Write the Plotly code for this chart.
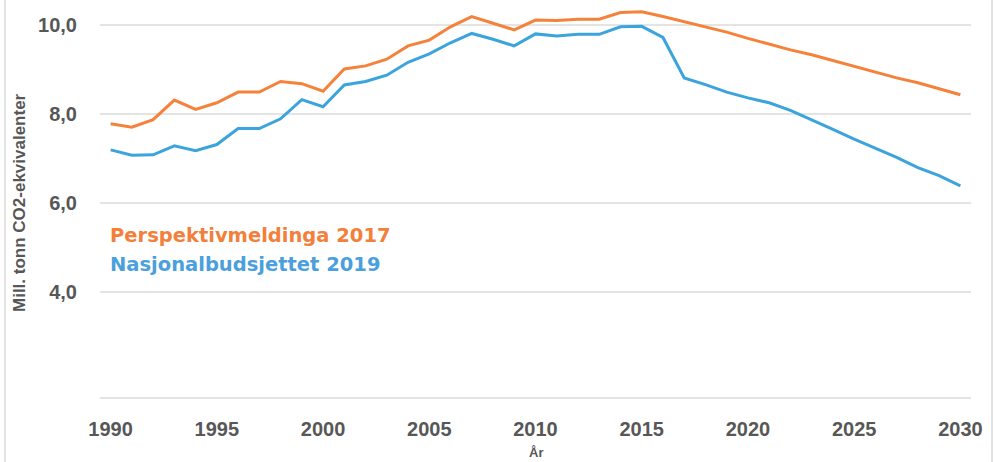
import plotly.graph_objects as go

years = list(range(1990, 2031))

perspektiv_2017 = [7.78, 7.70, 7.87, 8.31, 8.10, 8.25, 8.49, 8.49, 8.73, 8.68,
                   8.51, 9.01, 9.08, 9.23, 9.53, 9.66, 9.96, 10.19, 10.04, 9.89,
                   10.11, 10.10, 10.13, 10.13, 10.28, 10.30, 10.19, 10.07, 9.96, 9.84,
                   9.70, 9.57, 9.44, 9.33, 9.20, 9.07, 8.93, 8.81, 8.70, 8.57, 8.43]

nasjonal_2019 = [7.19, 7.07, 7.08, 7.28, 7.17, 7.31, 7.67, 7.67, 7.89, 8.32,
                 8.16, 8.65, 8.73, 8.87, 9.16, 9.35, 9.60, 9.81, 9.68, 9.53,
                 9.80, 9.75, 9.79, 9.79, 9.96, 9.97, 9.72, 8.81, 8.66, 8.49,
                 8.36, 8.25, 8.08, 7.87, 7.65, 7.43, 7.22, 7.02, 6.79, 6.61, 6.38]

series_names = ["Perspektivmeldinga 2017", "Nasjonalbudsjettet 2019"]
x_ticks = [1990, 1995, 2000, 2005, 2010, 2015, 2020, 2025, 2030]
y_ticks = [4, 6, 8, 10]

ORANGE = "#F5823A"
BLUE = "#3CA4DC"
TEXT = "#575757"
GRID = "#E4E4E4"
FONT = "Liberation Sans, Arial, sans-serif"
LEG_FONT = "DejaVu Sans, Verdana, sans-serif"

L, R, T, B = 100, 23, 5, 65
W, H = 994, 462
PW, PH = W - L - R, H - T - B

fig = go.Figure()
fig.add_trace(go.Scatter(x=years, y=perspektiv_2017, mode="lines",
                         name=series_names[0], line=dict(color=ORANGE, width=3)))
fig.add_trace(go.Scatter(x=years, y=nasjonal_2019, mode="lines",
                         name=series_names[1], line=dict(color=BLUE, width=3)))

fig.update_layout(
    width=W, height=H,
    margin=dict(l=L, r=R, t=T, b=B, autoexpand=False),
    paper_bgcolor="white", plot_bgcolor="white",
    showlegend=False,
    separators=", ",
    font=dict(family=FONT, color=TEXT),
    xaxis=dict(
        range=[1989.5, 2030.5], tickvals=x_ticks, automargin=False,
        showgrid=False, zeroline=False,
        showline=True, linecolor=GRID, linewidth=2,
        ticks="", ticklabelstandoff=13,
        tickfont=dict(family=FONT, size=20, color=TEXT, weight="bold"),
    ),
    yaxis=dict(
        range=[1.63, 10.45], tickvals=y_ticks, tickformat=".1f", automargin=False,
        showgrid=True, gridcolor=GRID, gridwidth=2,
        zeroline=False, showline=False, ticks="",
        ticklabelstandoff=22,
        tickfont=dict(family=FONT, size=20, color=TEXT, weight="bold"),
    ),
)

# axis titles
fig.add_annotation(xref="paper", yref="paper", x=(20 - L) / PW, y=(H - B - 203) / PH,
                   text="Mill. tonn CO2-ekvivalenter", textangle=-90, showarrow=False,
                   xanchor="center", yanchor="middle",
                   font=dict(family=FONT, size=17, color=TEXT, weight="bold"))
fig.add_annotation(xref="paper", yref="paper", x=0.5, y=(H - B - 452) / PH,
                   text="År", showarrow=False, xanchor="center", yanchor="middle",
                   font=dict(family=FONT, size=13, color=TEXT, weight="bold"))

# legend as text
fig.add_annotation(xref="paper", yref="paper", x=(108 - L) / PW, y=(H - B - 235) / PH,
                   text=series_names[0], showarrow=False, xanchor="left", yanchor="middle",
                   font=dict(family=LEG_FONT, size=19.5, color="#F2803A", weight="bold"))
fig.add_annotation(xref="paper", yref="paper", x=(108 - L) / PW, y=(H - B - 264) / PH,
                   text=series_names[1], showarrow=False, xanchor="left", yanchor="middle",
                   font=dict(family=LEG_FONT, size=19.5, color="#4A9FDC", weight="bold"))

for px in (5, 992):
    xp = (px - L) / PW
    fig.add_shape(type="line", xref="paper", yref="paper", x0=xp, x1=xp,
                  y0=-B / PH, y1=1 + T / PH, line=dict(color="#DADADA", width=1.5))

fig.write_html("out.html", config={"displayModeBar": False},
               post_script="document.body.style.margin='0px';document.body.style.overflow='hidden';")
